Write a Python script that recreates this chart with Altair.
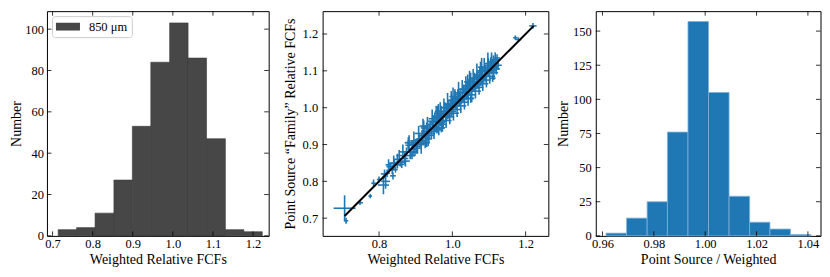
import altair as alt
import pandas as pd

FONT = "Liberation Serif"

# ---------------- data ----------------
# Left histogram: weighted relative FCFs (850 um)
w_edges = [0.714, 0.760, 0.806, 0.853, 0.899, 0.945, 0.992, 1.038, 1.084, 1.131, 1.177, 1.223]
w_counts = [3, 4, 11, 27, 53, 84, 103, 86, 47, 3, 2]

# Right histogram: ratio point source / weighted
r_edges = [0.9614, 0.9694, 0.9774, 0.9853, 0.9933, 1.0013, 1.0093, 1.0173, 1.0252, 1.0332, 1.0412]
r_counts = [2, 13, 25, 76, 157, 105, 29, 10, 5, 1]

# Middle scatter: weighted (x) vs point-source family (y) with errors
sc_x = [0.706, 0.710, 0.748, 0.776, 0.785, 0.812, 0.818, 0.800, 0.822, 0.830,
        0.836, 0.842, 0.850, 0.858, 0.862, 0.845, 0.870, 0.875, 0.880, 0.885,
        0.890, 0.893, 0.898, 0.900, 0.905, 0.910, 0.912, 0.918, 0.920, 0.925,
        0.928, 0.930, 0.934, 0.938, 0.940, 0.943, 0.958, 0.948, 0.952, 0.955,
        0.958, 0.960, 0.962, 0.965, 0.968, 0.970, 0.972, 0.975, 0.978, 0.980,
        0.982, 0.985, 0.988, 0.990, 0.992, 0.995, 0.998, 1.000, 1.002, 1.005,
        1.008, 1.010, 1.012, 1.015, 1.018, 1.020, 1.022, 1.025, 1.028, 1.030,
        1.032, 1.035, 1.038, 1.040, 1.042, 1.045, 1.048, 1.050, 1.052, 1.055,
        1.058, 1.060, 1.062, 1.065, 1.068, 1.070, 1.072, 1.075, 1.078, 1.080,
        1.082, 1.085, 1.088, 1.090, 1.092, 1.095, 1.098, 1.100, 1.103, 1.105,
        1.108, 1.110, 1.112, 1.115, 1.118, 1.122, 1.125, 1.110, 1.172, 1.180,
        1.220, 0.970, 1.050, 0.930, 0.890,
        0.840, 0.855, 0.865, 0.872, 0.882, 0.887, 0.895, 0.902, 0.908, 0.915,
        0.922, 0.926, 0.932, 0.936, 0.945, 0.950, 0.956, 0.963, 0.967, 0.973,
        0.977, 0.983, 0.987, 0.993, 0.997, 1.003, 1.007, 1.013, 1.017, 1.023,
        1.027, 1.033, 1.037, 1.043, 1.047, 1.053, 1.057, 1.063, 1.067, 1.073,
        1.077, 1.083, 1.087, 1.093, 1.097, 1.102, 1.107, 1.113, 1.117, 1.120,
        0.962, 1.002, 1.042, 1.080, 0.920, 0.880, 0.850, 0.826, 0.815, 0.838]
sc_y = [0.727, 0.693, 0.742, 0.760, 0.795, 0.790, 0.800, 0.805, 0.822, 0.840,
        0.832, 0.848, 0.845, 0.852, 0.846, 0.832, 0.862, 0.880, 0.898, 0.870,
        0.900, 0.887, 0.880, 0.905, 0.895, 0.915, 0.902, 0.925, 0.910, 0.935,
        0.920, 0.945, 0.915, 0.940, 0.955, 0.930, 0.963, 0.960, 0.975, 0.950,
        0.940, 0.985, 0.958, 0.970, 0.960, 0.990, 0.975, 0.965, 0.985, 1.000,
        0.975, 0.990, 0.980, 1.005, 0.995, 1.010, 0.990, 1.020, 1.000, 1.010,
        1.030, 1.005, 1.020, 1.035, 1.015, 1.025, 1.040, 1.020, 1.030, 1.050,
        1.025, 1.045, 1.040, 1.060, 1.035, 1.055, 1.050, 1.075, 1.045, 1.065,
        1.060, 1.080, 1.055, 1.070, 1.085, 1.065, 1.078, 1.095, 1.070, 1.085,
        1.100, 1.080, 1.090, 1.105, 1.085, 1.100, 1.115, 1.095, 1.110, 1.125,
        1.100, 1.115, 1.130, 1.110, 1.120, 1.135, 1.115, 1.080, 1.190, 1.185,
        1.222, 0.945, 1.025, 0.905, 0.870,
        0.850, 0.870, 0.880, 0.855, 0.905, 0.880, 0.910, 0.890, 0.930, 0.900,
        0.945, 0.905, 0.950, 0.925, 0.970, 0.935, 0.975, 0.945, 0.990, 0.955,
        1.000, 0.965, 1.010, 0.975, 1.020, 0.985, 1.025, 0.995, 1.040, 1.005,
        1.050, 1.015, 1.060, 1.025, 1.070, 1.035, 1.080, 1.045, 1.090, 1.055,
        1.100, 1.065, 1.110, 1.075, 1.120, 1.085, 1.125, 1.095, 1.130, 1.105,
        0.990, 1.030, 1.070, 1.110, 0.950, 0.905, 0.860, 0.845, 0.820, 0.815]
sc_xerr = [0.030, 0.006, 0.008, 0.005, 0.006, 0.015, 0.012, 0.006, 0.008, 0.010,
           0.008, 0.012, 0.007, 0.010, 0.008, 0.006, 0.010, 0.010, 0.008, 0.010,
           0.008, 0.010, 0.008, 0.012, 0.008, 0.010, 0.015, 0.010, 0.008, 0.010,
           0.012, 0.008, 0.010, 0.010, 0.008, 0.010, 0.025, 0.010, 0.008, 0.010,
           0.012, 0.008, 0.010, 0.010, 0.012, 0.008, 0.010, 0.010, 0.008, 0.010,
           0.012, 0.010, 0.008, 0.010, 0.010, 0.008, 0.012, 0.010, 0.010, 0.008,
           0.010, 0.012, 0.010, 0.008, 0.010, 0.012, 0.010, 0.008, 0.010, 0.010,
           0.012, 0.008, 0.010, 0.010, 0.008, 0.012, 0.010, 0.008, 0.010, 0.010,
           0.012, 0.008, 0.010, 0.010, 0.008, 0.012, 0.010, 0.008, 0.010, 0.010,
           0.012, 0.008, 0.010, 0.010, 0.008, 0.012, 0.010, 0.010, 0.008, 0.010,
           0.012, 0.010, 0.008, 0.010, 0.010, 0.008, 0.010, 0.008, 0.006, 0.008,
           0.010, 0.010, 0.010, 0.008, 0.008,
           0.010, 0.008, 0.010, 0.012, 0.010, 0.015, 0.010, 0.012, 0.010, 0.010,
           0.008, 0.012, 0.010, 0.015, 0.010, 0.012, 0.010, 0.015, 0.010, 0.012,
           0.010, 0.015, 0.010, 0.012, 0.010, 0.015, 0.010, 0.012, 0.010, 0.015,
           0.010, 0.012, 0.010, 0.015, 0.010, 0.012, 0.010, 0.015, 0.010, 0.012,
           0.010, 0.015, 0.010, 0.012, 0.010, 0.015, 0.010, 0.012, 0.015, 0.010,
           0.010, 0.010, 0.010, 0.010, 0.010, 0.010, 0.012, 0.008, 0.010, 0.008]
sc_yerr = [0.035, 0.008, 0.006, 0.006, 0.010, 0.025, 0.020, 0.008, 0.010, 0.012,
           0.012, 0.010, 0.010, 0.012, 0.010, 0.008, 0.015, 0.012, 0.015, 0.010,
           0.012, 0.015, 0.012, 0.010, 0.020, 0.012, 0.010, 0.015, 0.012, 0.015,
           0.010, 0.015, 0.020, 0.012, 0.010, 0.015, 0.010, 0.020, 0.012, 0.015,
           0.010, 0.020, 0.012, 0.015, 0.010, 0.015, 0.012, 0.020, 0.012, 0.015,
           0.010, 0.020, 0.012, 0.015, 0.010, 0.012, 0.015, 0.012, 0.020, 0.010,
           0.015, 0.012, 0.010, 0.015, 0.012, 0.020, 0.012, 0.010, 0.015, 0.012,
           0.010, 0.015, 0.020, 0.012, 0.010, 0.015, 0.012, 0.020, 0.010, 0.015,
           0.012, 0.015, 0.010, 0.020, 0.012, 0.015, 0.010, 0.015, 0.012, 0.020,
           0.012, 0.010, 0.015, 0.012, 0.015, 0.010, 0.020, 0.012, 0.015, 0.012,
           0.010, 0.015, 0.012, 0.010, 0.012, 0.010, 0.012, 0.010, 0.006, 0.006,
           0.008, 0.012, 0.012, 0.012, 0.010,
           0.020, 0.015, 0.020, 0.015, 0.020, 0.012, 0.025, 0.015, 0.020, 0.025,
           0.020, 0.015, 0.025, 0.020, 0.025, 0.020, 0.030, 0.020, 0.025, 0.020,
           0.025, 0.020, 0.030, 0.020, 0.025, 0.020, 0.025, 0.020, 0.030, 0.020,
           0.025, 0.020, 0.025, 0.020, 0.030, 0.020, 0.025, 0.020, 0.030, 0.020,
           0.025, 0.020, 0.025, 0.020, 0.030, 0.020, 0.025, 0.020, 0.020, 0.015,
           0.020, 0.025, 0.020, 0.025, 0.020, 0.015, 0.015, 0.015, 0.012, 0.010]
line_ends = [0.706, 1.222]

# ticks
w_xticks = [0.7, 0.8, 0.9, 1.0, 1.1, 1.2]
w_yticks = [0, 20, 40, 60, 80, 100]
s_xticks = [0.8, 1.0, 1.2]
s_yticks = [0.7, 0.8, 0.9, 1.0, 1.1, 1.2]
r_xticks = [0.96, 0.98, 1.00, 1.02, 1.04]
r_yticks = [0, 25, 50, 75, 100, 125, 150]

BLUE = "#1f77b4"
GREY = "#474747"
TICK = 4.5


def axis(vals, fmt, title, lp, tp):
    return alt.Axis(values=vals, format=fmt, title=title, ticks=False, domain=False,
                    grid=False, labelPadding=lp, labelFont=FONT, labelFontSize=12.5,
                    labelColor="black", titleFont=FONT, titleFontSize=14,
                    titleFontWeight="normal", titleColor="black", titlePadding=tp,
                    labelFlush=False, labelOverlap=False)


def tick_layers(xs, ys, xscale, yscale, xax, yax, W, H):
    dx = pd.DataFrame({"v": xs})
    dy = pd.DataFrame({"v": ys})
    base_x = alt.Chart(dx).mark_rule(color="black", strokeWidth=0.8)
    base_y = alt.Chart(dy).mark_rule(color="black", strokeWidth=0.8)
    X = alt.X("v:Q", scale=xscale, axis=xax)
    Y = alt.Y("v:Q", scale=yscale, axis=yax)
    return [
        base_x.encode(x=X, y=alt.value(H), y2=alt.value(H - TICK)),
        base_x.encode(x=X, y=alt.value(0), y2=alt.value(TICK)),
        base_y.encode(y=Y, x=alt.value(0), x2=alt.value(TICK)),
        base_y.encode(y=Y, x=alt.value(W), x2=alt.value(W - TICK)),
    ]


# ---- panel 1 ----
W1, H = 222, 225
hist1 = pd.DataFrame({"lo": w_edges[:-1], "hi": w_edges[1:], "n": w_counts,
                      "band": ["850 μm"] * len(w_counts)})
xs1 = alt.Scale(domain=[0.686, 1.239], nice=False, zero=False)
ys1 = alt.Scale(domain=[0, 108.7], nice=False, zero=False)
xa1 = axis(w_xticks, ".1f", "Weighted Relative FCFs", 2, 2.5)
ya1 = axis(w_yticks, "d", "Number", 3.5, 1.5)
bars1 = alt.Chart(hist1).mark_rect(stroke="#3a3a3a", strokeWidth=0.6).encode(
    x=alt.X("lo:Q", scale=xs1, axis=xa1),
    x2="hi:Q",
    y=alt.Y("n:Q", scale=ys1, axis=ya1),
    y2=alt.datum(0),
    color=alt.Color("band:N", scale=alt.Scale(range=[GREY]),
                    legend=alt.Legend(title=None, orient="top-left", offset=5,
                                      symbolType="M-1,-0.6H2.7V0.6H-1Z", symbolSize=169,
                                      symbolStrokeWidth=0, symbolOpacity=1,
                                      labelFont=FONT, labelFontSize=12.5, labelColor="black",
                                      strokeColor="#cccccc", fillColor="white",
                                      padding=4, cornerRadius=3, labelOffset=20)),
)
p1 = alt.layer(bars1, *tick_layers(w_xticks, w_yticks, xs1, ys1, xa1, ya1, W1, H)).properties(width=W1, height=H)

# ---- panel 2 ----
W2 = 226
sc = pd.DataFrame({"x": sc_x, "y": sc_y, "xe": sc_xerr, "ye": sc_yerr})
xs2 = alt.Scale(domain=[0.646, 1.262], nice=False, zero=False)
ys2 = alt.Scale(domain=[0.652, 1.262], nice=False, zero=False)
xa2 = axis(s_xticks, ".1f", "Weighted Relative FCFs", 2, 2.5)
ya2 = axis(s_yticks, ".1f", "Point Source “Family” Relative FCFs", 5, 5)
hbar = alt.Chart(sc).transform_calculate(a="datum.x - datum.xe", b="datum.x + datum.xe").mark_rule(
    color=BLUE, strokeWidth=1.6).encode(
    x=alt.X("a:Q", scale=xs2, axis=xa2),
    x2="b:Q",
    y=alt.Y("y:Q", scale=ys2, axis=ya2),
)
vbar = alt.Chart(sc).transform_calculate(a="datum.y - datum.ye", b="datum.y + datum.ye").mark_rule(
    color=BLUE, strokeWidth=1.6).encode(
    x=alt.X("x:Q", scale=xs2, axis=xa2),
    y=alt.Y("a:Q", scale=ys2, axis=ya2),
    y2="b:Q",
)
ld = pd.DataFrame({"x": line_ends, "y": line_ends})
line = alt.Chart(ld).mark_line(color="black", strokeWidth=2).encode(
    x=alt.X("x:Q", scale=xs2, axis=xa2), y=alt.Y("y:Q", scale=ys2, axis=ya2))
p2 = alt.layer(hbar, vbar, line, *tick_layers(s_xticks, s_yticks, xs2, ys2, xa2, ya2, W2, H)).properties(width=W2, height=H)

# ---- panel 3 ----
W3 = 225
hist3 = pd.DataFrame({"lo": r_edges[:-1], "hi": r_edges[1:], "n": r_counts})
xs3 = alt.Scale(domain=[0.9574, 1.0449], nice=False, zero=False)
ys3 = alt.Scale(domain=[0, 164.6], nice=False, zero=False)
xa3 = axis(r_xticks, ".2f", "Point Source / Weighted", 2, 2.5)
ya3 = axis(r_yticks, "d", "Number", 4.5, 2.5)
bars3 = alt.Chart(hist3).mark_rect(color=BLUE, stroke="#7fb0d8", strokeWidth=0.8).encode(
    x=alt.X("lo:Q", scale=xs3, axis=xa3),
    x2="hi:Q",
    y=alt.Y("n:Q", scale=ys3, axis=ya3),
    y2=alt.datum(0),
)
p3 = alt.layer(bars3, *tick_layers(r_xticks, r_yticks, xs3, ys3, xa3, ya3, W3, H)).properties(width=W3, height=H)

inner = alt.hconcat(p1, p2, spacing=12).resolve_scale(color="independent")
chart = alt.hconcat(inner, p3, spacing=5.5).resolve_scale(color="independent").properties(
    padding={"left": 0, "top": 2, "right": 0, "bottom": 0}, background="white"
).configure_view(stroke="black", strokeWidth=1)

chart.save("out.html", embed_options={"renderer": "svg", "actions": False})
